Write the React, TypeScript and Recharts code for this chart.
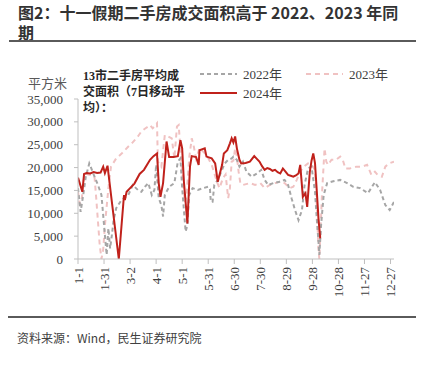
import { LineChart, Line, XAxis, YAxis, Legend } from 'recharts'

// x axis: day of year (0 = 1-1), a label every 30 days
const tickDays = [0, 30, 60, 90, 120, 150, 180, 210, 240, 270, 300, 330, 360]
const tickLabels = ['1-1', '1-31', '3-2', '4-1', '5-1', '5-31', '6-30', '7-30', '8-29', '9-28', '10-28', '11-27', '12-27']
const yTicks = [0, 5000, 10000, 15000, 20000, 25000, 30000, 35000]

const days2022 = [
    0, 3, 6, 9, 13, 16, 19, 23, 27, 29, 31, 33, 35, 37, 39, 41, 44, 50, 58, 63, 69, 73, 77, 81, 85, 88, 90, 93, 96, 98,
    100, 105, 111, 115, 118, 120, 122, 124, 126, 128, 132, 138, 144, 150, 152, 153, 155, 157, 161, 165, 169, 173, 177,
    179, 183, 186, 190, 194, 200, 206, 211, 215, 219, 225, 232, 238, 242, 246, 250, 254, 258, 261, 265, 269, 273, 275,
    277, 278, 280, 283, 287, 294, 302, 310, 317, 325, 334, 342, 348, 354, 359, 364,
]
const values2022 = [
    15500, 10300, 14000, 18000, 20900, 19500, 18000, 16200, 14000, 9600, 5200, 900, 6700, 2300, 5200, 8500, 11100, 12900,
    14000, 16200, 15100, 14700, 15800, 16600, 14000, 15100, 20600, 13300, 11800, 9300, 14000, 15800, 16600, 21300, 22000,
    15500, 10700, 6000, 7400, 14000, 15500, 15100, 15500, 15800, 15300, 12500, 12500, 16200, 17300, 19100, 20900, 21700,
    22000, 22400, 21700, 20200, 21300, 19100, 18000, 18700, 19500, 17300, 16200, 16600, 16900, 17300, 16200, 13300, 10700,
    8500, 10700, 16200, 19800, 20200, 14700, 8900, 3800, 900, 7400, 14000, 16600, 17000, 17300, 16600, 15800, 15500,
    14400, 16800, 15100, 11800, 10700, 12500,
]

const days2023 = [
    0, 2, 4, 6, 8, 12, 16, 19, 21, 23, 25, 27, 29, 31, 35, 38, 44, 50, 58, 63, 69, 73, 77, 81, 83, 86, 88, 91, 92, 96, 100,
    104, 108, 111, 114, 116, 119, 121, 123, 125, 128, 131, 133, 136, 140, 148, 154, 160, 163, 167, 170, 173, 175, 177, 179,
    181, 183, 185, 187, 190, 198, 204, 210, 215, 221, 227, 233, 238, 244, 248, 252, 256, 260, 265, 269, 273, 275, 277, 278,
    281, 284, 286, 288, 292, 297, 302, 305, 308, 313, 321, 327, 333, 338, 342, 345, 350, 354, 358, 364,
]
const values2023 = [
    14700, 12000, 12500, 16500, 18700, 18500, 18300, 18000, 13300, 8200, 3100, 0, 2000, 7400, 15500, 20200, 22000, 23000,
    24600, 25500, 26800, 27900, 28500, 29000, 29300, 28600, 29000, 29700, 21300, 20200, 27100, 26800, 26400, 22000, 29000,
    29300, 21300, 16900, 12500, 13500, 22000, 26400, 25000, 22000, 24200, 22800, 20600, 16900, 15500, 17700, 18500, 13300,
    15500, 21300, 21500, 24200, 22500, 19100, 16600, 16200, 16600, 16200, 16600, 15500, 16200, 16600, 16900, 16600, 15500,
    15800, 17300, 19100, 20200, 20900, 20600, 19500, 11800, 2000, 0, 14000, 24200, 21300, 20600, 21700, 21700, 22400,
    21700, 19800, 19800, 20200, 20200, 20600, 18400, 19100, 18400, 18000, 20200, 20900, 21300,
]

const days2024 = [
    0, 5, 7, 10, 14, 18, 22, 26, 29, 31, 34, 39, 47, 50, 53, 54, 56, 60, 65, 71, 76, 83, 87, 91, 93, 95, 98, 102, 105, 110,
    115, 118, 120, 122, 126, 129, 131, 136, 139, 140, 146, 148, 154, 158, 161, 163, 166, 168, 172, 175, 177, 179, 181, 183,
    186, 188, 193, 198, 203, 206, 209, 212, 215, 218, 221, 224, 227, 230, 233, 236, 239, 242, 245, 248, 251, 254, 256, 259,
    262, 264, 267, 269, 271, 273, 275, 277, 279,
]
const values2024 = [
    17800, 14700, 18600, 18800, 18700, 19000, 18800, 18900, 20200, 18800, 20400, 12500, 0, 7000, 14000, 12900, 14700, 15500,
    16500, 18600, 19500, 21700, 22500, 23100, 16600, 13600, 16600, 25700, 22300, 22300, 22500, 26000, 24200, 16900, 7800,
    20200, 22500, 22300, 20600, 23800, 24200, 22400, 22000, 20900, 16900, 18400, 20600, 23100, 23800, 25300, 26400, 25500,
    26800, 24200, 21700, 20900, 21000, 21300, 22500, 21900, 21300, 20300, 19500, 19900, 19700, 19300, 19500, 19000, 18700,
    19800, 19100, 18400, 18200, 18000, 18300, 18700, 20600, 13600, 14400, 11400, 19000, 21500, 23100, 21000, 15000, 8900,
    4500,
]

const toPoints = (days: number[], values: number[]) => days.map((day, i) => ({ day, value: values[i] }))

const serif = "'Liberation Serif', 'Times New Roman', 'Noto Sans CJK SC', serif"
const sans = "'Noto Sans CJK SC', 'Noto Sans', sans-serif"

const RED = '#c0211b'
const GREY = '#a6a6a6'
const PINK = '#f0c2c2'

interface TickProps {
    x?: number
    y?: number
    payload?: { value: number }
}

function DateTick({ x = 0, y = 0, payload }: TickProps) {
    const label = tickLabels[tickDays.indexOf(payload ? payload.value : -1)]
    return (
        <text
            x={0}
            y={0}
            transform={`translate(${x},${y}) rotate(-90)`}
            textAnchor="end"
            dominantBaseline="central"
            fontSize={13}
            fontFamily={serif}
            fill="#404040"
        >
            {label}
        </text>
    )
}

function ChartLegend() {
    const item = (x: number, y: number, color: string, dash: string | undefined, text: string) => (
        <g key={text}>
            <line x1={x} y1={y} x2={x + 37} y2={y} stroke={color} strokeWidth={2} strokeDasharray={dash} />
            <text x={x + 43} y={y} dominantBaseline="central" fontSize={13} fontFamily={serif} fill="#404040">
                {text}
            </text>
        </g>
    )
    return (
        <svg width={426} height={110} style={{ display: 'block' }}>
            {item(200, 74, GREY, '4 3', '2022年')}
            {item(306, 74, PINK, '5 4', '2023年')}
            {item(200, 93, RED, undefined, '2024年')}
        </svg>
    )
}

export default function App() {
    return (
        <div
            style={{
                position: 'absolute',
                left: 0,
                top: 0,
                width: 426,
                height: 365,
                background: '#fff',
                overflow: 'hidden',
            }}
        >
            <div
                style={{
                    position: 'absolute',
                    left: 18,
                    top: 2,
                    fontFamily: sans,
                    fontWeight: 700,
                    fontSize: 16,
                    lineHeight: '20px',
                    color: '#333',
                    whiteSpace: 'nowrap',
                }}
            >
                图2：十一假期二手房成交面积高于 2022、2023 年同
                <br />
                期
            </div>
            <div style={{ position: 'absolute', left: 9, top: 40, width: 407, height: 2, background: '#5a5a5a' }} />

            <LineChart width={426} height={365} margin={{ top: 99, right: 32, left: 0, bottom: 56 }}>
                <XAxis
                    dataKey="day"
                    type="number"
                    domain={[0, 364]}
                    ticks={tickDays}
                    interval={0}
                    tick={<DateTick />}
                    tickSize={5}
                    tickMargin={3}
                    height={50}
                    stroke="#bfbfbf"
                    allowDataOverflow
                />
                <YAxis
                    domain={[0, 35000]}
                    ticks={yTicks}
                    width={78}
                    tickSize={4}
                    tickMargin={11}
                    stroke="#bfbfbf"
                    tickFormatter={(v: number) => v.toLocaleString('en-US')}
                    tick={{ fontSize: 13, fontFamily: serif, fill: '#404040' }}
                />
                <Legend
                    layout="vertical"
                    align="center"
                    verticalAlign="middle"
                    content={<ChartLegend />}
                    wrapperStyle={{ left: 0, top: 0, width: 426, height: 110 }}
                />
                <Line
                    data={toPoints(days2023, values2023)}
                    dataKey="value"
                    name="2023年"
                    type="linear"
                    stroke={PINK}
                    strokeWidth={2}
                    strokeDasharray="5 4"
                    dot={false}
                    isAnimationActive={false}
                />
                <Line
                    data={toPoints(days2022, values2022)}
                    dataKey="value"
                    name="2022年"
                    type="linear"
                    stroke={GREY}
                    strokeWidth={2}
                    strokeDasharray="4 3"
                    dot={false}
                    isAnimationActive={false}
                />
                <Line
                    data={toPoints(days2024, values2024)}
                    dataKey="value"
                    name="2024年"
                    type="linear"
                    stroke={RED}
                    strokeWidth={2}
                    dot={false}
                    isAnimationActive={false}
                />
            </LineChart>

            <div
                style={{
                    position: 'absolute',
                    left: 28,
                    top: 76,
                    fontFamily: serif,
                    fontSize: 13,
                    color: '#595959',
                    lineHeight: '16px',
                }}
            >
                平方米
            </div>
            <div
                style={{
                    position: 'absolute',
                    left: 83,
                    top: 68,
                    fontFamily: serif,
                    fontWeight: 700,
                    fontSize: 12,
                    lineHeight: '16px',
                    color: '#262626',
                    whiteSpace: 'nowrap',
                }}
            >
                13市二手房平均成
                <br />
                交面积（7日移动平
                <br />
                均）：
            </div>

            <div style={{ position: 'absolute', left: 8, top: 316, width: 408, height: 2, background: '#5a5a5a' }} />
            <div
                style={{
                    position: 'absolute',
                    left: 17,
                    top: 330,
                    fontFamily: sans,
                    fontSize: 12,
                    lineHeight: '16px',
                    color: '#404040',
                }}
            >
                资料来源：Wind，民生证券研究院
            </div>
        </div>
    )
}
